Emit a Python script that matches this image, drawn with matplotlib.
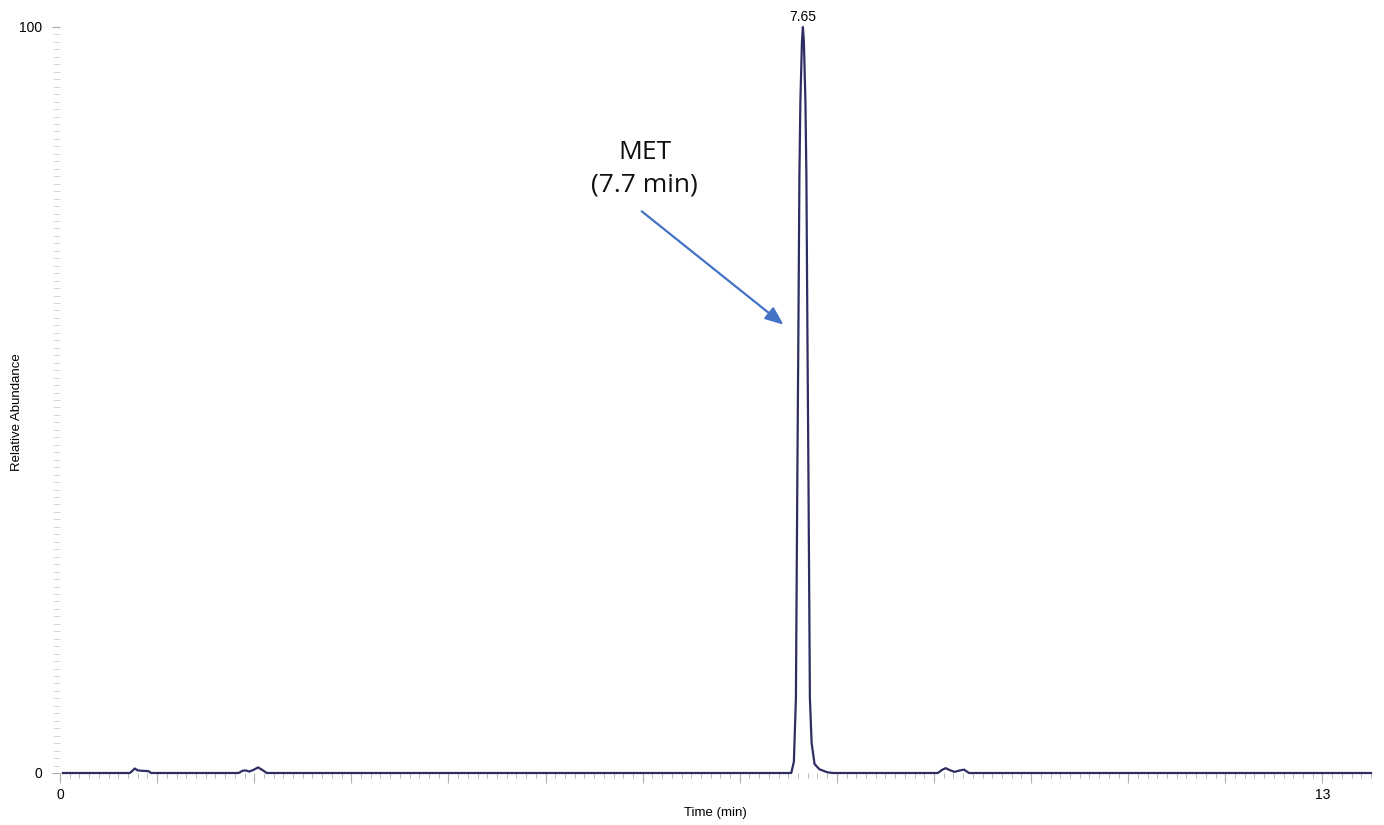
import matplotlib
matplotlib.use("Agg")
import matplotlib.pyplot as plt
from matplotlib.ticker import FixedLocator, MultipleLocator

# chromatogram trace: retention time (min) vs relative abundance (%)
time_min = [0.03, 0.72, 0.75, 0.77, 0.80, 0.84, 0.91, 0.94,
            1.84, 1.88, 1.91, 1.95, 1.99, 2.04, 2.09, 2.13,
            7.53, 7.557, 7.578, 7.593, 7.604, 7.614, 7.624, 7.64, 7.65,
            7.66, 7.676, 7.686, 7.696, 7.707, 7.722, 7.74, 7.77, 7.82, 7.90, 7.96,
            9.04, 9.08, 9.12, 9.16, 9.21, 9.27, 9.31, 9.36,
            13.5]
abundance = [0, 0, 0.35, 0.6, 0.35, 0.3, 0.25, 0,
             0, 0.3, 0.35, 0.2, 0.4, 0.75, 0.35, 0,
             0, 1.5, 10, 40, 60, 80, 90, 98, 100,
             98, 90, 80, 60, 40, 10, 4, 1.2, 0.5, 0.1, 0,
             0, 0.4, 0.65, 0.4, 0.15, 0.35, 0.45, 0,
             0]

peak_rt = 7.65
peak_label = "7.65"
compound = "MET"
compound_rt = "(7.7 min)"

x_labels = {0: "0", 13: "13"}
y_labels = {0: "0", 100: "100"}

plt.rcParams["font.family"] = ["Liberation Sans", "DejaVu Sans"]
TICK = "#b0b0b0"
TRACE = "#2f2e63"

fig = plt.figure(figsize=(13.84, 8.25), dpi=100, facecolor="white")
W, H = 1384, 825
left, right, top, bottom = 60, 1371, 27, 773
ax = fig.add_axes([left / W, 1 - bottom / H, (right - left) / W, (bottom - top) / H])

ax.plot(time_min, abundance, color=TRACE, lw=1.6, clip_on=False, solid_joinstyle="round")
ax.set_xlim(0, 13.5)
ax.set_ylim(0, 100)

for s in ax.spines.values():
    s.set_visible(False)

# x: a major tick every minute (only ends labelled), minor every 0.1 min
xt = list(range(0, 14))
ax.xaxis.set_major_locator(FixedLocator(xt))
ax.set_xticklabels([x_labels.get(v, "") for v in xt])
ax.xaxis.set_minor_locator(MultipleLocator(0.1))
ax.tick_params(axis="x", which="major", length=7, width=0.8, color=TICK, pad=3.5,
               labelsize=10)
ax.tick_params(axis="x", which="minor", length=3.5, width=0.6, color=TICK)

# y: labels only at 0 and 100, minor tick every 1 %
yt = [0, 100]
ax.yaxis.set_major_locator(FixedLocator(yt))
ax.set_yticklabels([y_labels[v] for v in yt])
ax.yaxis.set_minor_locator(MultipleLocator(1))
ax.tick_params(axis="y", which="major", length=6, width=0.8, color=TICK, pad=7,
               labelsize=10)
ax.tick_params(axis="y", which="minor", length=5, width=0.6, color="#d0d0d0")

ax.set_xlabel("Time (min)", fontsize=9.5, labelpad=4)
ax.set_ylabel("Relative Abundance", fontsize=9.5)
ax.yaxis.set_label_coords(-0.033, 0.484)
ax.yaxis.label.set_va("center")

# apex retention time
ax.annotate(peak_label, xy=(peak_rt, max(abundance)), xytext=(0, 2),
            textcoords="offset points", ha="center", va="bottom", fontsize=10)

# compound callout with arrow onto the peak flank
ax.text(peak_rt - 1.63, 81.0, f"{compound}\n{compound_rt}", ha="center", va="center",
        fontsize=19, family=["Open Sans", "DejaVu Sans"], color="#111111",
        linespacing=1.35)
ax.annotate("", xy=(peak_rt - 0.2, 60.1), xytext=(peak_rt - 1.66, 75.3),
            arrowprops=dict(arrowstyle="-|>,head_length=1.1,head_width=0.45",
                            color="#4472c4", lw=1.6, shrinkA=0, shrinkB=0))

fig.savefig("out.png", dpi=100, facecolor="white")
